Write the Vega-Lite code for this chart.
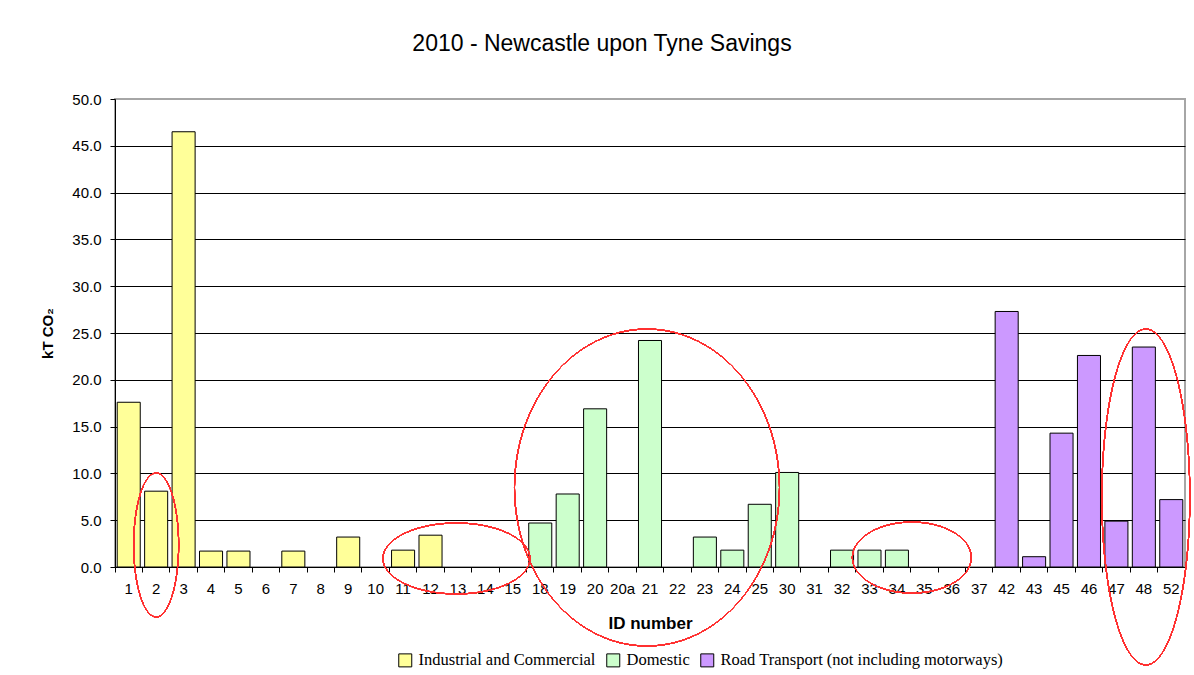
{
  "$schema": "https://vega.github.io/schema/vega-lite/v6.json",
  "width": 1070,
  "height": 468,
  "autosize": {"type": "none"},
  "padding": {"left": 115, "top": 99, "right": 9, "bottom": 108},
  "background": "white",
  "title": {
    "text": "2010 - Newcastle upon Tyne Savings",
    "font": "Liberation Sans",
    "fontSize": 23,
    "fontWeight": "normal",
    "color": "black",
    "anchor": "middle",
    "frame": "group",
    "dx": -48,
    "offset": 36
  },
  "config": {
    "view": {"stroke": "#a6a6a6", "strokeWidth": 2},
    "axis": {
      "labelFont": "Liberation Sans",
      "labelFontSize": 15,
      "labelColor": "black",
      "titleFont": "Liberation Sans",
      "titleColor": "black",
      "titleFontSize": 17,
      "titleFontWeight": "bold",
      "domainColor": "black",
      "domainWidth": 1,
      "tickColor": "black",
      "tickWidth": 1,
      "tickSize": 5
    }
  },
  "data": {
    "values": [
      {"id": "1", "sector": "Industrial and Commercial", "kt": 17.6},
      {"id": "2", "sector": "Industrial and Commercial", "kt": 8.1},
      {"id": "3", "sector": "Industrial and Commercial", "kt": 46.5},
      {"id": "4", "sector": "Industrial and Commercial", "kt": 1.7},
      {"id": "5", "sector": "Industrial and Commercial", "kt": 1.7},
      {"id": "7", "sector": "Industrial and Commercial", "kt": 1.7},
      {"id": "9", "sector": "Industrial and Commercial", "kt": 3.2},
      {"id": "11", "sector": "Industrial and Commercial", "kt": 1.8},
      {"id": "12", "sector": "Industrial and Commercial", "kt": 3.4},
      {"id": "18", "sector": "Domestic", "kt": 4.7},
      {"id": "19", "sector": "Domestic", "kt": 7.8},
      {"id": "20", "sector": "Domestic", "kt": 16.9},
      {"id": "21", "sector": "Domestic", "kt": 24.2},
      {"id": "23", "sector": "Domestic", "kt": 3.2},
      {"id": "24", "sector": "Domestic", "kt": 1.8},
      {"id": "25", "sector": "Domestic", "kt": 6.7},
      {"id": "30", "sector": "Domestic", "kt": 10.1},
      {"id": "32", "sector": "Domestic", "kt": 1.8},
      {"id": "33", "sector": "Domestic", "kt": 1.8},
      {"id": "34", "sector": "Domestic", "kt": 1.8},
      {"id": "42", "sector": "Road Transport (not including motorways)", "kt": 27.3},
      {"id": "43", "sector": "Road Transport (not including motorways)", "kt": 1.1},
      {"id": "45", "sector": "Road Transport (not including motorways)", "kt": 14.3},
      {"id": "46", "sector": "Road Transport (not including motorways)", "kt": 22.6},
      {"id": "47", "sector": "Road Transport (not including motorways)", "kt": 4.9},
      {"id": "48", "sector": "Road Transport (not including motorways)", "kt": 23.5},
      {"id": "52", "sector": "Road Transport (not including motorways)", "kt": 7.2}
    ]
  },
  "encoding": {
    "x": {
      "field": "id",
      "type": "nominal",
      "scale": {
        "domain": ["1","2","3","4","5","6","7","8","9","10","11","12","13","14","15","18","19","20","20a","21","22","23","24","25","30","31","32","33","34","35","36","37","42","43","45","46","47","48","52"],
        "paddingInner": 0,
        "paddingOuter": 0
      },
      "axis": {
        "title": "ID number",
        "labelAngle": 0,
        "bandPosition": 0,
        "labelPadding": 9,
        "titlePadding": 19
      }
    },
    "y": {
      "field": "kt",
      "type": "quantitative",
      "scale": {"domain": [0, 50], "nice": false},
      "axis": {
        "title": "kT CO₂",
        "values": [0, 5, 10, 15, 20, 25, 30, 35, 40, 45, 50],
        "format": ".1f",
        "grid": true,
        "gridColor": {"condition": {"test": "datum.value === 50", "value": "#a6a6a6"}, "value": "black"},
        "gridWidth": 1,
        "labelPadding": 9,
        "titlePadding": 16,
        "titleFontSize": 15
      }
    }
  },
  "layer": [
    {
      "mark": {"type": "bar", "width": {"band": 0.84}, "stroke": "black", "strokeWidth": 1, "opacity": 1},
      "encoding": {
        "fill": {
          "field": "sector",
          "type": "nominal",
          "scale": {
            "domain": ["Industrial and Commercial", "Domestic", "Road Transport (not including motorways)"],
            "range": ["#ffff99", "#ccffcc", "#cc99ff"]
          },
          "legend": {
            "title": null,
            "orient": "none",
            "legendX": 282,
            "legendY": 553,
            "direction": "horizontal",
            "labelFont": "Liberation Serif",
            "labelFontSize": 16.5,
            "labelColor": "black",
            "symbolType": "square",
            "symbolSize": 169,
            "symbolStrokeColor": "black",
            "symbolStrokeWidth": 1,
            "symbolOpacity": 1,
            "labelOffset": 5,
            "columnPadding": 8,
            "labelLimit": 400
          }
        }
      }
    },
    {
      "mark": {"type": "point", "shape": "M -0.3125 0 A 0.3125 1 0 1 0 0.3125 0 A 0.3125 1 0 1 0 -0.3125 0 Z", "size": 20736, "filled": false, "stroke": "#ff3030", "strokeWidth": 1, "opacity": 1},
      "encoding": {"x": {"datum": "2", "type": "nominal"}, "y": {"datum": 2.35, "type": "quantitative"}}
    },
    {
      "mark": {"type": "point", "shape": "M -1 0 A 1 0.483 0 1 0 1 0 A 1 0.483 0 1 0 -1 0 Z", "size": 21609, "filled": false, "stroke": "#ff3030", "strokeWidth": 1, "opacity": 1, "xOffset": -1.5},
      "encoding": {"x": {"datum": "13", "type": "nominal"}, "y": {"datum": 0.91, "type": "quantitative"}}
    },
    {
      "mark": {"type": "point", "shape": "M -0.836 0 A 0.836 1 0 1 0 0.836 0 A 0.836 1 0 1 0 -0.836 0 Z", "size": 100489, "filled": false, "stroke": "#ff3030", "strokeWidth": 1, "opacity": 1, "xOffset": -3},
      "encoding": {"x": {"datum": "21", "type": "nominal"}, "y": {"datum": 8.49, "type": "quantitative"}}
    },
    {
      "mark": {"type": "point", "shape": "M -1 0 A 1 0.597 0 1 0 1 0 A 1 0.597 0 1 0 -1 0 Z", "size": 14161, "filled": false, "stroke": "#ff3030", "strokeWidth": 1, "opacity": 1, "xOffset": -12.5},
      "encoding": {"x": {"datum": "35", "type": "nominal"}, "y": {"datum": 1.01, "type": "quantitative"}}
    },
    {
      "mark": {"type": "point", "shape": "M -0.262 0 A 0.262 1 0 1 0 0.262 0 A 0.262 1 0 1 0 -0.262 0 Z", "size": 112896, "filled": false, "stroke": "#ff3030", "strokeWidth": 1, "opacity": 1, "xOffset": 2},
      "encoding": {"x": {"datum": "48", "type": "nominal"}, "y": {"datum": 7.48, "type": "quantitative"}}
    }
  ]
}
